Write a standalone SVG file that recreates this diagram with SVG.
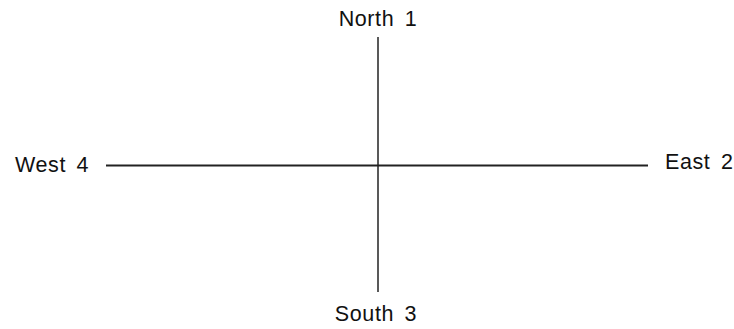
<svg xmlns="http://www.w3.org/2000/svg" width="734" height="329" viewBox="0 0 734 329">
<style>
.lbl{font-family:"Liberation Sans",Arial,sans-serif;font-size:21.5px;fill:#111;word-spacing:4px;letter-spacing:0.6px}
.ln{stroke:#222;fill:none}
</style>
<rect width="734" height="329" fill="#fff"/>
<g id="connectors">
<line class="ln" x1="106" y1="165.5" x2="648" y2="165.5" stroke-width="2"/>
<line class="ln" x1="378" y1="37" x2="378" y2="292" stroke-width="1.5" stroke="#555"/>
</g>
<g id="north"><text class="lbl" x="378" y="26" text-anchor="middle">North 1</text></g>
<g id="east"><text class="lbl" x="665" y="169">East 2</text></g>
<g id="south"><text class="lbl" x="376" y="321" text-anchor="middle">South 3</text></g>
<g id="west"><text class="lbl" x="15" y="172">West 4</text></g>
</svg>
